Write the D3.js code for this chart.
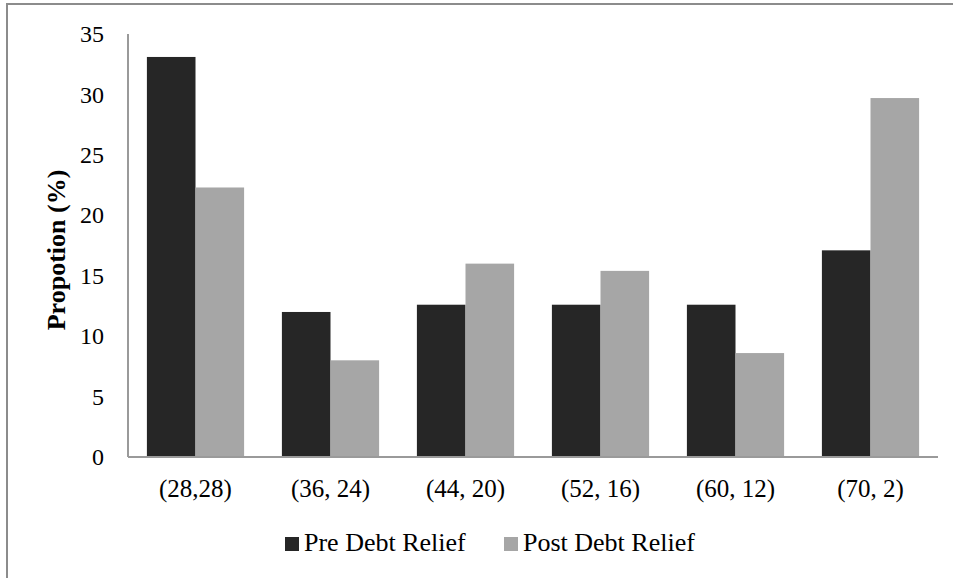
<!DOCTYPE html>
<html>
<head>
<meta charset="utf-8">
<script src="https://cdn.jsdelivr.net/npm/d3@7/dist/d3.min.js"></script>
<style>
  html, body { margin: 0; padding: 0; background: #fff; }
  svg { display: block; }
  text { font-family: "Liberation Serif", "Times New Roman", serif; fill: #000; }
</style>
</head>
<body>
<svg id="chart" width="953" height="578"></svg>
<script>
// Categories (age pairs) and the share of each group before and after debt relief
const categories = ["(28,28)", "(36, 24)", "(44, 20)", "(52, 16)", "(60, 12)", "(70, 2)"];
const preRelief  = [33.1, 12.0, 12.6, 12.6, 12.6, 17.1];
const postRelief = [22.3, 8.0, 16.0, 15.4, 8.6, 29.7];
const seriesNames = ["Pre Debt Relief", "Post Debt Relief"];
const yTicks = [0, 5, 10, 15, 20, 25, 30, 35];

const colors = ["#262626", "#a6a6a6"];
const series = [preRelief, postRelief];

const svg = d3.select("#chart");

// Chart frame
svg.append("rect")
  .attr("x", 7).attr("y", 4)
  .attr("width", 960).attr("height", 590)
  .attr("fill", "none")
  .attr("stroke", "#8c8c8c")
  .attr("stroke-width", 2);

const plot = { left: 128, right: 938, top: 34, bottom: 457 };

const x = d3.scaleBand()
  .domain(categories)
  .range([plot.left, plot.right])
  .paddingInner(0.28)
  .paddingOuter(0.14);

const xSub = d3.scaleBand()
  .domain(d3.range(series.length))
  .range([0, x.bandwidth()]);

const y = d3.scaleLinear()
  .domain([0, 35])
  .range([plot.bottom, plot.top]);

// Bars
series.forEach((vals, si) => {
  svg.append("g")
    .selectAll("rect")
    .data(vals)
    .join("rect")
    .attr("x", (d, i) => x(categories[i]) + xSub(si))
    .attr("y", d => y(d))
    .attr("width", xSub.bandwidth())
    .attr("height", d => y(0) - y(d))
    .attr("fill", colors[si]);
});

// Y axis
const yAxis = svg.append("g")
  .attr("transform", `translate(${plot.left},0)`)
  .call(d3.axisLeft(y).tickValues(yTicks).tickSize(0).tickPadding(24));
yAxis.select(".domain").remove();
yAxis.selectAll("text")
  .style("font-family", "'Liberation Serif', 'Times New Roman', serif")
  .style("font-size", "24px")
  .attr("fill", "#000");

svg.append("line")
  .attr("x1", plot.left).attr("x2", plot.left)
  .attr("y1", plot.top).attr("y2", plot.bottom)
  .attr("stroke", "#9a9a9a").attr("stroke-width", 2);

// X axis
const xAxis = svg.append("g")
  .attr("transform", `translate(0,${plot.bottom})`)
  .call(d3.axisBottom(x).tickSize(0).tickPadding(22));
xAxis.select(".domain").remove();
xAxis.selectAll("text")
  .style("font-family", "'Liberation Serif', 'Times New Roman', serif")
  .style("font-size", "25px")
  .attr("fill", "#000");

svg.append("line")
  .attr("x1", plot.left).attr("x2", plot.right)
  .attr("y1", plot.bottom).attr("y2", plot.bottom)
  .attr("stroke", "#9a9a9a").attr("stroke-width", 2);

// Y axis title
svg.append("text")
  .attr("transform", `translate(65,250) rotate(-90)`)
  .attr("text-anchor", "middle")
  .style("font-size", "26px")
  .style("font-weight", "bold")
  .text("Propotion (%)");

// Legend
const legendItems = [
  { name: seriesNames[0], color: colors[0], x: 285 },
  { name: seriesNames[1], color: colors[1], x: 504 }
];
const legend = svg.append("g");
legendItems.forEach(item => {
  legend.append("rect")
    .attr("x", item.x).attr("y", 537)
    .attr("width", 14).attr("height", 14)
    .attr("fill", item.color);
  legend.append("text")
    .attr("x", item.x + 19).attr("y", 551)
    .style("font-size", "26px")
    .text(item.name);
});
</script>
</body>
</html>
